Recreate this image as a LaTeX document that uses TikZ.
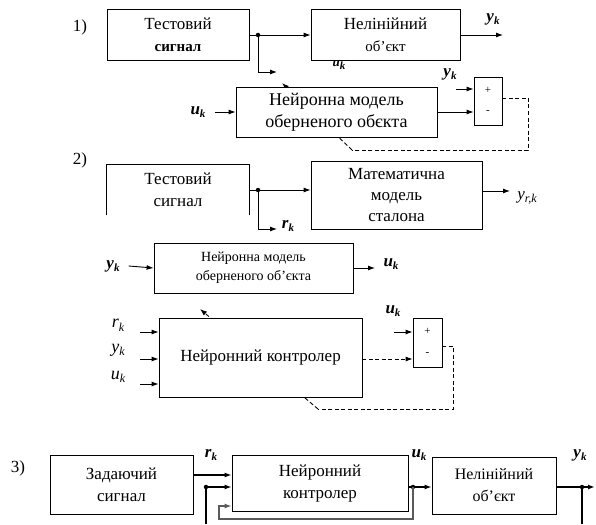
\documentclass[tikz,border=0pt]{standalone}
\usepackage{fontspec}
\setmainfont{Liberation Serif}
\usepackage{tikz}
\usetikzlibrary{arrows.meta,calc,positioning}
\definecolor{fbline}{RGB}{90,90,90}
\newcommand{\sigb}[2]{{\bfseries\itshape #1}\raisebox{-0.45ex}{\fontsize{11}{11}\selectfont\bfseries\itshape #2}}
\newcommand{\sigi}[2]{{\itshape #1}\raisebox{-0.45ex}{\fontsize{12}{12}\selectfont\itshape #2}}
\newcommand{\sumsigns}[1]{%
  \node[font=\fontsize{11}{11}\selectfont] at ($(#1)+(0,-11)$) {+};%
  \node[font=\fontsize{11}{11}\selectfont] at ($(#1)+(0,11)$) {-};%
}

\begin{document}
\begin{tikzpicture}[x=1pt,y=-1pt,
  blk/.style={draw,line width=0.8pt,fill=white,align=center,inner sep=0pt,font=\fontsize{17}{22}\selectfont},
  sumbox/.style={draw,line width=0.8pt,fill=white,minimum width=28pt,minimum height=48pt,inner sep=0pt},
  arr/.style={-{Latex[length=7pt,width=5pt]},line width=0.9pt},
  arrb/.style={-{Latex[length=7pt,width=5pt]},line width=1.6pt},
  wline/.style={line width=0.9pt,dash pattern=on 4pt off 2.5pt},
  jdot/.style={circle,fill,inner sep=0pt,minimum size=4.5pt},
  lab/.style={inner sep=1pt,font=\fontsize{17}{18}\selectfont}]
  \useasboundingbox (0,0) rectangle (596,524);
  % 1) inverse model training
  \coordinate (w1a) at (282,83);
  \coordinate (w1b) at (352,150);
  \draw[wline,-{Latex[length=7pt,width=5pt]}] (w1b) -- (w1a);
  \node[lab] (num1) at (80,27) {1)};
  \node[blk,minimum width=142pt,minimum height=51pt] (test1) at (178,35) {Тестовий\\{\fontsize{15}{18}\selectfont\bfseries сигнал}};
  \node[blk,minimum width=149pt,minimum height=51pt] (plant1) at (385.5,35) {Нелінійний\\{\fontsize{15}{18}\selectfont об’єкт}};
  \node[blk,minimum width=201pt,minimum height=50pt,font=\fontsize{18}{22}\selectfont] (nninv1) at (336.5,112) {Нейронна модель\\оберненого обєкта};
  \node[sumbox] (cmp1) at (488,101) {};
  \sumsigns{cmp1}
  \node[jdot] (j1) at (258,35) {};
  \coordinate (t1) at (277,72);
  \coordinate (y1) at (503,35);
  \draw[arr] (test1.east) -- (plant1.west);
  \draw[arr] (j1.center) |- (t1);
  \draw[arr] (plant1.east) -- (y1);
  \node[lab] (y1l) at (493,19) {\sigb{y}{k}};
  \node[lab,font=\fontsize{13}{14}\selectfont] (u1s) at (339,65) {\sigb{u}{k}};
  \node[lab] (u1) at (198,112) {\sigb{u}{k}};
  \draw[arr] ([xshift=8pt]u1.east) -- (nninv1.west);
  \node[lab] (y1c) at (450,74) {\sigb{y}{k}};
  \coordinate (s1) at (456,89);
  \draw[arr] (s1) -- (s1 -| cmp1.west);
  \draw[arr] (nninv1.east) -- (nninv1.east -| cmp1.west);
  \draw[wline] ([yshift=3pt]cmp1.east) -- ++(26,0) |- (w1b);
  % 2) controller training with reference model
  \coordinate (w2a) at (200,309);
  \coordinate (w2b) at (318,409);
  \draw[wline,-{Latex[length=7pt,width=5pt]}] (w2b) -- (w2a);
  \node[lab] (num2) at (80,160) {2)};
  \node[blk,draw=none,fill=none,minimum width=142pt,minimum height=50pt] (test2) at (178,190) {Тестовий\\сигнал};
  \draw[line width=0.8pt] (test2.south west) -- (test2.north west) -- (test2.north east) -- (test2.south east);
  \node[blk,minimum width=171pt,minimum height=68pt,font=\fontsize{17}{21}\selectfont] (model2) at (396.5,195) {Математична\\модель\\сталона};
  \node[jdot] (j2) at (258,190) {};
  \coordinate (t2) at (277,229);
  \coordinate (yr2) at (510,191);
  \draw[arr] (test2.east) -- (test2.east -| model2.west);
  \draw[arr] (j2.center) |- (t2);
  \draw[arr] ([yshift=4pt]model2.east) -- (yr2);
  \node[lab] (r2l) at (288,226) {\sigb{r}{k}};
  \node[lab] (yr2l) at (527,198) {\sigi{y}{r,k}};
  \node[blk,minimum width=199pt,minimum height=50pt,font=\fontsize{14}{19}\selectfont] (nninv2) at (253.5,268) {Нейронна модель\\оберненого об’єкта};
  \node[lab] (y2l) at (113,266) {\sigb{y}{k}};
  \coordinate (u2) at (375,268);
  \draw[arr] ([xshift=8pt]y2l.east) -- (nninv2.west);
  \draw[arr] (nninv2.east) -- (u2);
  \node[lab] (u2l) at (391,264) {\sigb{u}{k}};
  \node[blk,minimum width=203pt,minimum height=79pt] (ctrl2) at (260.5,357.5) {Нейронний контролер};
  \node[lab,font=\fontsize{18}{18}\selectfont] (r2i) at (118,325) {\sigi{r}{k}};
  \node[lab,font=\fontsize{18}{18}\selectfont] (y2i) at (118,350) {\sigi{y}{k}};
  \node[lab,font=\fontsize{18}{18}\selectfont] (u2i) at (118,377) {\sigi{u}{k}};
  \coordinate (i2a) at (140,332);
  \coordinate (i2b) at (140,359);
  \coordinate (i2c) at (140,384);
  \draw[arr] (i2a) -- (i2a -| ctrl2.west);
  \draw[arr] (i2b) -- (i2b -| ctrl2.west);
  \draw[arr] (i2c) -- (i2c -| ctrl2.west);
  \node[sumbox,minimum width=29pt,minimum height=49pt] (cmp2) at (427.5,342.5) {};
  \sumsigns{cmp2}
  \node[lab] (u2c) at (393,311) {\sigb{u}{k}};
  \coordinate (s2) at (394,332);
  \draw[arr] (s2) -- (s2 -| cmp2.west);
  \draw[wline,-{Latex[length=7pt,width=5pt]}] ([yshift=-1.5pt]ctrl2.east) -- ([yshift=-1.5pt]ctrl2.east -| cmp2.west);
  \draw[wline] ([yshift=-3.5pt]cmp2.east) -- ++(11,0) |- (w2b);
  % 3) closed loop
  \node[lab] (num3) at (18,468) {3)};
  \node[blk,minimum width=143pt,minimum height=59pt] (ref3) at (121.5,484.5) {Задаючий\\сигнал};
  \node[blk,minimum width=176pt,minimum height=56pt] (ctrl3) at (320,483) {Нейронний\\контролер};
  \node[blk,minimum width=124pt,minimum height=57pt,font=\fontsize{16}{22}\selectfont] (plant3) at (494,485.5) {Нелінійний\\об’єкт};
  \draw[arrb] ([yshift=9.5pt]ref3.east) -- ([yshift=9.5pt]ref3.east -| ctrl3.west);
  \node[lab] (r3l) at (211,455) {\sigb{r}{k}};
  \node[jdot] (j3a) at (206,487) {};
  \coordinate (b3a) at (206,524);
  \draw[arrb] (j3a.center) -- (j3a.center -| ctrl3.west);
  \draw[line width=1.6pt] (j3a.center) -- (b3a);
  \node[jdot] (j3b) at (413,487) {};
  \coordinate (f3b) at (219,519);
  \draw[arrb] ([yshift=-4pt]ctrl3.east) -- ([yshift=-4pt]ctrl3.east -| plant3.west);
  \draw[line width=1.2pt,color=fbline,-{Latex[length=7pt,width=5pt]}] (j3b.center) |- (f3b) |- ([yshift=-23pt]ctrl3.west);
  \node[lab] (u3l) at (419,455) {\sigb{u}{k}};
  \node[jdot] (j3c) at (582,487) {};
  \coordinate (y3) at (595,487);
  \coordinate (b3c) at (582,524);
  \draw[arrb] ([yshift=-1.5pt]plant3.east) -- (y3);
  \draw[line width=1.6pt] (j3c.center) -- (b3c);
  \node[lab] (y3l) at (580,455) {\sigb{y}{k}};
\end{tikzpicture}
\end{document}
